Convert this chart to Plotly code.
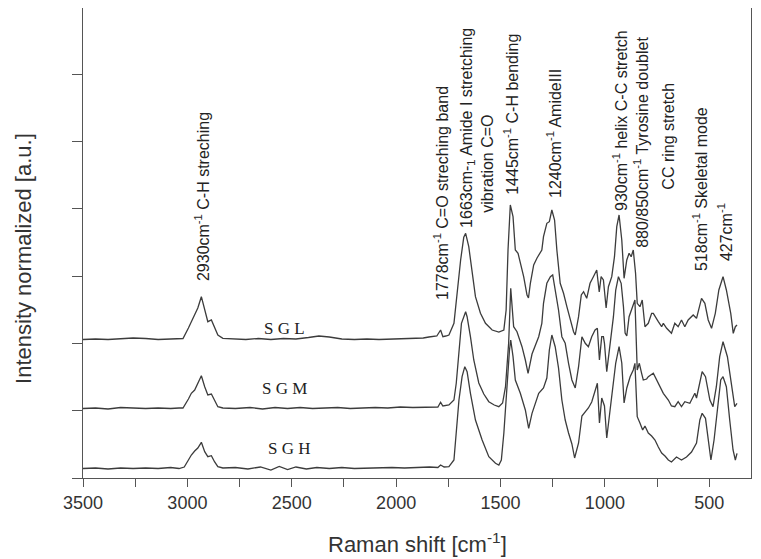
import plotly.graph_objects as go

# Raman spectra: (wavenumber cm-1, intensity a.u.)
sgl_points = [
    (3500, 138.5), (3440, 139), (3380, 138.5), (3320, 139.5), (3260, 140), (3200, 139.5),
    (3140, 138.5), (3080, 139), (3040, 139), (3021, 139.5), (2995, 150), (2981, 156.3),
    (2965, 162), (2950, 170), (2933, 181.3), (2917, 168), (2902, 156.3), (2885, 158),
    (2870, 151.3), (2854, 143), (2830, 139.7), (2780, 139), (2720, 138.5), (2660, 139.5),
    (2600, 138.5), (2540, 139.5), (2480, 139), (2420, 140.5), (2370, 142), (2320, 141),
    (2260, 139), (2200, 138.5), (2140, 139), (2082, 138.5), (2020, 139), (1960, 139.5),
    (1924, 140.3), (1870, 140), (1843, 141), (1805, 142), (1787, 148), (1776, 141.3),
    (1762, 142), (1747, 143), (1723, 154.7), (1708, 188), (1691, 218), (1676, 240.7),
    (1667, 244.7), (1652, 231.3), (1636, 204.7), (1620, 181.3), (1596, 164.7), (1572, 154.7),
    (1540, 148), (1508, 146), (1484, 148), (1473, 168), (1464, 228), (1453, 273),
    (1440, 261.3), (1429, 228), (1416, 224.7), (1405, 214.7), (1389, 201.3), (1373, 183),
    (1366, 180), (1357, 194.7), (1341, 213), (1325, 220), (1302, 228), (1294, 241.3),
    (1278, 254.7), (1266, 256.3), (1254, 268), (1241, 258), (1230, 228), (1214, 194.7),
    (1198, 184.7), (1182, 171.3), (1166, 158), (1150, 146.3), (1142, 143), (1126, 161.3),
    (1113, 183), (1102, 186.3), (1087, 179.7), (1071, 194.7), (1055, 201.3), (1039, 208),
    (1027, 186), (1018, 201.3), (1007, 198), (994, 170), (983, 191.3), (967, 201.3),
    (954, 221.3), (943, 251.3), (932, 263), (919, 238), (908, 199.7), (895, 218),
    (884, 224.7), (874, 221.3), (864, 228), (853, 204.7), (845, 174.7), (832, 171.3),
    (821, 178), (808, 151.3), (792, 154.7), (776, 164.7), (768, 164.7), (752, 158),
    (744, 156.3), (728, 151.3), (720, 154.7), (704, 149.7), (681, 144.7), (665, 154.7),
    (649, 151.3), (633, 158), (617, 151.3), (601, 158), (577, 163), (561, 159.7),
    (537, 179.7), (521, 174.7), (505, 158), (489, 149.7), (471, 164.7), (454, 188),
    (434, 201.3), (418, 188), (397, 164.7), (385, 144.7), (375, 151.3), (367, 153),
]

sgm_points = [
    (3500, 69.5), (3440, 70), (3380, 69), (3320, 70.5), (3260, 70), (3200, 69.5),
    (3140, 70), (3080, 69.5), (3040, 70), (3021, 70), (2995, 79), (2981, 84.7),
    (2965, 88), (2950, 94), (2933, 102.3), (2917, 91.3), (2902, 83), (2885, 84),
    (2870, 78), (2854, 71.3), (2830, 70), (2770, 69.5), (2700, 70.5), (2640, 69),
    (2580, 70.5), (2520, 69.5), (2460, 70.5), (2400, 69.5), (2340, 70), (2280, 70.5),
    (2220, 69.5), (2160, 70), (2100, 70.5), (2040, 70), (1980, 71), (1920, 70.5),
    (1860, 71), (1827, 71.3), (1800, 71), (1787, 75.7), (1776, 72), (1747, 73),
    (1723, 78), (1712, 94.7), (1699, 128), (1687, 154.7), (1667, 166.3), (1660, 161.3),
    (1644, 141.3), (1628, 118), (1604, 95), (1580, 84), (1556, 76.3), (1530, 73),
    (1508, 71.3), (1490, 75), (1476, 91.3), (1461, 134.7), (1451, 189.7), (1437, 151.3),
    (1421, 146.3), (1397, 131.3), (1381, 118), (1368, 104.7), (1349, 124), (1317, 141.3),
    (1302, 154.7), (1294, 174.7), (1278, 194.7), (1261, 201.3), (1250, 203), (1238, 188),
    (1222, 168), (1206, 141.3), (1190, 134.7), (1174, 114.7), (1158, 98), (1142, 90),
    (1126, 111.3), (1110, 141.3), (1094, 134.7), (1079, 131.3), (1063, 141.3), (1047, 148),
    (1036, 149.7), (1026, 118), (1015, 141.3), (1007, 141.3), (1002, 134.7), (991, 106.3),
    (975, 134.7), (959, 161.3), (948, 188), (935, 201.3), (922, 194.7), (911, 171.3),
    (903, 145), (895, 142), (884, 161.3), (874, 168), (864, 173), (856, 178),
    (845, 108), (835, 114.7), (824, 104.7), (816, 98), (800, 99), (792, 101.3),
    (768, 104.7), (744, 94.7), (720, 84.7), (696, 78), (681, 72), (665, 71.3),
    (649, 76.3), (633, 71.3), (617, 76.3), (593, 74.7), (569, 84.7), (561, 80),
    (545, 95), (534, 106.3), (518, 101.3), (497, 78), (482, 71.3), (466, 91.3),
    (450, 121.3), (434, 136.3), (413, 121.3), (394, 91.3), (378, 71.3), (367, 74.7),
]

sgh_points = [
    (3500, 9.5), (3440, 10), (3380, 9), (3320, 10), (3260, 9.5), (3200, 10),
    (3140, 9.5), (3080, 10.5), (3040, 9.5), (3015, 11), (2995, 18), (2981, 23),
    (2965, 27), (2950, 30), (2933, 35.7), (2917, 26.3), (2902, 21.3), (2885, 22.3),
    (2870, 16.3), (2854, 11.3), (2830, 10), (2770, 10.5), (2710, 9), (2650, 11),
    (2600, 8), (2560, 11.5), (2520, 8.5), (2480, 11), (2430, 9), (2380, 10.5),
    (2320, 9.5), (2260, 10.5), (2200, 9.5), (2140, 10), (2080, 10), (2020, 10.5),
    (1960, 10), (1900, 10.5), (1840, 11), (1800, 10.5), (1787, 13), (1770, 11),
    (1747, 11.3), (1723, 18), (1712, 44.7), (1699, 78), (1684, 101.3), (1671, 111.3),
    (1660, 106.3), (1644, 84.7), (1620, 58), (1588, 38), (1556, 21.3), (1524, 14.7),
    (1508, 13), (1496, 18), (1484, 44.7), (1469, 94.7), (1457, 128), (1451, 138),
    (1440, 121.3), (1429, 98), (1416, 91.3), (1405, 84.7), (1381, 68), (1365, 49.7),
    (1349, 64.7), (1317, 84.7), (1294, 90), (1278, 100), (1266, 128), (1254, 143),
    (1238, 131.3), (1222, 110), (1206, 78), (1190, 58), (1174, 45), (1158, 34),
    (1145, 20), (1126, 35), (1110, 62), (1094, 66), (1079, 70), (1063, 76),
    (1047, 88), (1036, 94.7), (1026, 55), (1015, 80), (1002, 72), (991, 40),
    (975, 68), (959, 95), (948, 115), (932, 131.3), (919, 115), (908, 75),
    (895, 90), (879, 101.3), (864, 108), (856, 114.7), (845, 61.3), (832, 55),
    (819, 48), (808, 52), (792, 45), (776, 42), (760, 38), (744, 31),
    (728, 25), (712, 22), (696, 18), (681, 16), (657, 21), (633, 18),
    (609, 21), (585, 26), (561, 35), (545, 58), (534, 64.7), (518, 59.7),
    (505, 38), (492, 18), (477, 38), (461, 71.3), (445, 98), (434, 101.3),
    (418, 91.3), (402, 58), (386, 28), (375, 18), (367, 24.7),
]

# sample labels next to the 2500 cm-1 baseline
sample_names = ["S G L", "S G M", "S G H"]
sample_label_x = [2535, 2535, 2511]
sample_label_y = [150, 90, 30]

# band assignments: (text, wavenumber, bottom of the rotated text)
band_labels = [
    ("2930cm<sup>-1</sup> C-H streching", 2932, 195),
    ("1778cm<sup>-1</sup> C=O streching band", 1785, 176),
    ("1663cm-<sub>1</sub> Amide I stretching", 1661, 248),
    ("vibration C=O", 1566, 263),
    ("1445cm<sup>-1</sup> C-H bending", 1453, 281),
    ("1240cm<sup>-1</sup> AmideIII", 1246, 278),
    ("930cm<sup>-1</sup> helix C-C stretch", 930, 265),
    ("880/850cm<sup>-1</sup> Tyrosine doublet", 830, 228),
    ("CC ring stretch", 697, 286),
    ("518cm<sup>-1</sup> Skeletal mode", 544, 205),
    ("427cm<sup>-1</sup>", 424, 215),
]

line_color = "#3c3c3c"
axis_color = "#555555"
text_color = "#333333"
sans = "Arial, Liberation Sans, sans-serif"

fig = go.Figure()

for points in [sgl_points, sgm_points, sgh_points]:
    wn = [p[0] for p in points]
    inten = [p[1] for p in points]
    fig.add_trace(
        go.Scatter(x=wn, y=inten, mode="lines", line=dict(color=line_color, width=1.3))
    )

for name, x, y in zip(sample_names, sample_label_x, sample_label_y):
    fig.add_annotation(
        x=x, y=y, text=name, showarrow=False,
        font=dict(family="Times New Roman, Liberation Serif, serif", size=17, color="#222222"),
    )

for text, x, y in band_labels:
    fig.add_annotation(
        x=x, y=y, text=text, showarrow=False, textangle=-90,
        xanchor="center", yanchor="bottom",
        font=dict(family=sans, size=16, color="#222222"),
    )

# axis titles as paper annotations for exact placement
fig.add_annotation(
    x=0.5, y=-0.138, xref="paper", yref="paper", showarrow=False,
    xanchor="center", yanchor="middle",
    text="Raman shift [cm<sup>-1</sup>]", font=dict(family=sans, size=22, color=text_color),
)
fig.add_annotation(
    x=-0.09, y=0.468, xref="paper", yref="paper", showarrow=False, textangle=-90,
    xanchor="center", yanchor="middle",
    text="Intensity normalized [a.u.]", font=dict(family=sans, size=22, color=text_color),
)

fig.update_xaxes(
    range=[3500, 300], tick0=0, dtick=500, tickformat="d",
    ticks="outside", ticklen=8, tickcolor=axis_color,
    minor=dict(dtick=250, ticks="outside", ticklen=8, tickcolor=axis_color),
    showline=True, linecolor=axis_color, linewidth=1, mirror=True,
    showgrid=False, zeroline=False,
    tickfont=dict(family=sans, size=18, color=text_color),
)
fig.update_yaxes(
    range=[0, 470], tick0=0, dtick=67.3, showticklabels=False,
    ticks="outside", ticklen=10, tickcolor=axis_color,
    showline=True, linecolor=axis_color, linewidth=1, mirror=True,
    showgrid=False, zeroline=False,
)
# the page adds an 8 px body margin; width fits inside it, height leaves room for the x title
fig.update_layout(
    width=745, height=551,
    margin=dict(l=75, r=2, t=0, b=81),
    plot_bgcolor="white", paper_bgcolor="white",
    showlegend=False,
)

fig.write_html("out.html")
